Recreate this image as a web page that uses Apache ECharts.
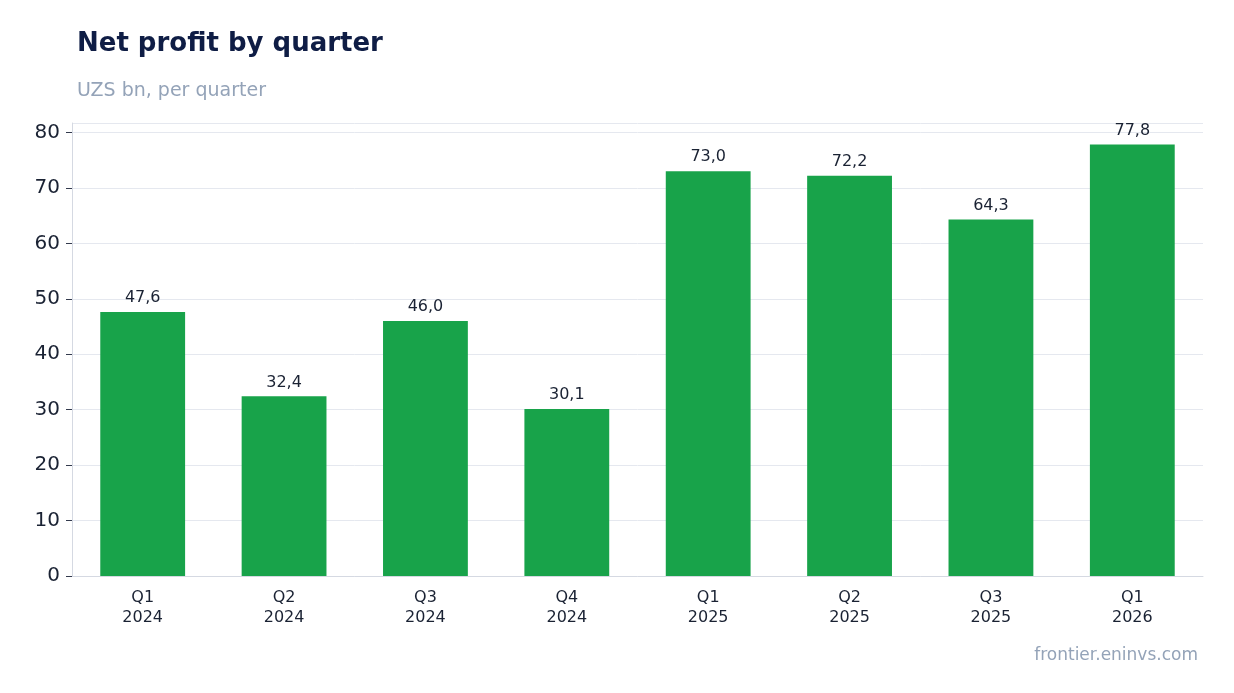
<!DOCTYPE html>
<html>
<head>
<meta charset="utf-8">
<script src="https://cdn.jsdelivr.net/npm/echarts@6/dist/echarts.min.js"></script>
<style>html,body{margin:0;padding:0;background:#fff}#chart{width:1234px;height:693px}</style>
</head>
<body>
<div id="chart"></div>
<script>
// Chart data
var categories = ['Q1\n2024', 'Q2\n2024', 'Q3\n2024', 'Q4\n2024', 'Q1\n2025', 'Q2\n2025', 'Q3\n2025', 'Q1\n2026'];
var profit = [47.6, 32.4, 46.0, 30.1, 73.0, 72.2, 64.3, 77.8];

var chart = echarts.init(document.getElementById('chart'));
chart.setOption({
    animation: false,
    textStyle: { fontFamily: 'DejaVu Sans' },
    title: [{
        text: 'Net profit by quarter',
        left: 72,
        top: 26,
        textStyle: { fontSize: 26, fontWeight: 'bold', color: '#0f1d45' }
    }, {
        text: 'UZS bn, per quarter',
        left: 72,
        top: 77,
        textStyle: { fontSize: 19, fontWeight: 'normal', color: '#94a3b8' }
    }, {
        text: 'frontier.eninvs.com',
        right: 31,
        top: 642,
        textStyle: { fontSize: 17, fontWeight: 'normal', color: '#94a3b8' }
    }],
    grid: { left: 72, right: 31, top: 123, bottom: 117, containLabel: false },
    xAxis: {
        type: 'category',
        data: categories,
        axisLine: { lineStyle: { color: '#d5d9e2' } },
        axisTick: { alignWithLabel: true, length: 6, lineStyle: { color: '#333a4d' } },
        axisLabel: { fontSize: 16, color: '#1a2233', lineHeight: 20, margin: 12 }
    },
    yAxis: {
        type: 'value',
        min: 0,
        max: 81.7,
        interval: 10,
        axisLine: { show: true, lineStyle: { color: '#d5d9e2' } },
        axisTick: { show: true, length: 6, lineStyle: { color: '#333a4d' } },
        splitLine: { lineStyle: { color: '#e5e8ef' } },
        axisLabel: {
            fontSize: 20, color: '#1a2233', margin: 12, showMaxLabel: false,
            formatter: function (v) { return v % 10 === 0 ? v : ''; }
        }
    },
    series: [{
        type: 'bar',
        data: profit,
        barWidth: '60%',
        itemStyle: { color: '#18a34a' },
        label: {
            show: true,
            position: 'top',
            fontSize: 16,
            color: '#1a2233',
            distance: 6,
            formatter: function (p) { return p.value.toFixed(1).replace('.', ','); }
        }
    }]
});
</script>
</body>
</html>
